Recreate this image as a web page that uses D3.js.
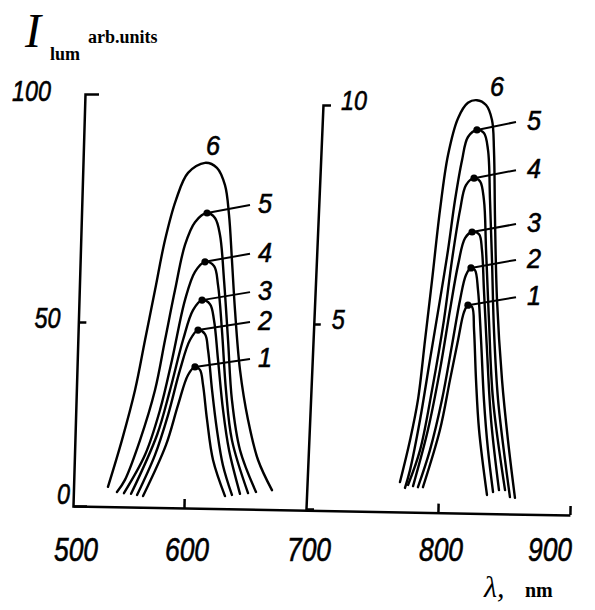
<!DOCTYPE html>
<html>
<head>
<meta charset="utf-8">
<script src="https://cdn.jsdelivr.net/npm/d3@7"></script>
<style>
  body { margin: 0; background: #fff; }
  svg text { fill: #000; }
  .hand { font-family: "Liberation Sans", Arial, sans-serif; font-style: italic; stroke: #000; stroke-width: 0.6; }
  .serif { font-family: "Liberation Serif", "DejaVu Serif", serif; }
  .axis path, .axis line { stroke: #000; stroke-width: 2.5; fill: none; }
</style>
</head>
<body>
<svg id="chart" width="595" height="610"></svg>
<script>
// ---- axis ticks ----
const xTickValues = [500, 600, 700, 800, 900];
const leftTickValues = [0, 50, 100];
const rightTickValues = [5, 10];
const curveNumbers = [1, 2, 3, 4, 5, 6];

// ---- red band, intensity on the left scale (0-100) : [wavelength nm, intensity] ----
const red1 = [[563.1,2.7],[583.8,16.6],[594.6,27.4],[603.3,35.6],[609.0,37.8],[613.1,37.0],[615.6,32.9],[618.9,23.4],[623.8,12.5],[633.6,2.7]];
const red2 = [[557.7,3.0],[573.9,13.9],[585.6,24.7],[596.4,37.0],[604.9,45.1],[611.5,47.8],[617.2,46.7],[619.7,42.4],[623.0,31.5],[627.0,20.7],[631.9,11.1],[639.3,3.0]];
const red3 = [[552.3,3.3],[575.7,19.3],[587.4,31.5],[599.1,45.1],[607.4,52.6],[614.8,54.8],[621.3,53.9],[624.6,50.4],[627.9,39.7],[632.0,26.1],[636.9,15.2],[645.9,3.3]];
const red4 = [[545.9,3.5],[564.9,13.9],[578.4,26.1],[589.2,39.7],[600.8,54.8],[609.0,61.0],[617.2,63.2],[624.6,62.3],[627.9,58.1],[631.1,47.8],[634.4,31.5],[639.3,17.9],[652.5,3.5]];
const red5 = [[539.6,3.8],[546.8,7.1],[560.4,17.9],[573.9,31.5],[582.9,45.1],[591.9,57.0],[600.8,66.9],[609.0,71.9],[618.9,73.9],[625.4,72.8],[629.5,69.1],[632.8,59.2],[636.1,45.1],[639.3,28.8],[645.9,15.2],[659.0,3.8]];
const red6 = [[531.5,5.2],[544.1,17.9],[555.9,31.5],[564.9,45.1],[573.9,57.0],[582.9,68.0],[592.8,76.8],[603.3,82.7],[617.2,84.9],[627.0,83.8],[633.6,80.0],[636.9,73.5],[639.3,63.6],[641.8,52.6],[645.9,37.0],[652.5,23.4],[660.7,12.5],[672.1,4.3]];

// ---- near-IR band, intensity on the right scale (0-10) ----
const ir1 = [[788.6,0.59],[801.5,2.14],[809.1,3.49],[815.2,4.57],[819.7,5.27],[822.7,5.43],[825.8,5.39],[827.3,4.84],[828.8,3.49],[831.1,2.14],[837.1,0.38]];
const ir2 = [[784.8,0.59],[793.9,1.59],[803.0,2.95],[810.6,4.43],[816.7,5.55],[821.2,6.12],[825.0,6.28],[828.0,6.23],[830.3,5.78],[832.6,4.57],[834.8,2.95],[837.9,1.59],[841.7,0.46]];
const ir3 = [[781.1,0.62],[792.4,2.14],[801.5,3.76],[809.1,5.32],[815.2,6.35],[820.5,6.96],[825.8,7.10],[831.1,7.05],[833.3,6.69],[834.8,5.78],[837.1,4.30],[840.2,2.41],[846.2,0.51]];
const ir4 = [[777.3,0.65],[786.4,1.59],[795.5,3.22],[804.5,5.09],[810.6,6.46],[816.7,7.60],[821.2,8.17],[827.3,8.33],[831.8,8.26],[834.8,7.83],[836.4,6.69],[838.6,5.09],[841.7,2.95],[850.8,0.51]];
const ir5 = [[775.0,0.57],[778.8,1.05],[786.4,2.41],[793.9,4.03],[801.5,5.55],[807.6,6.69],[812.9,7.83],[818.2,8.74],[822.7,9.27],[829.5,9.43],[834.8,9.36],[837.9,8.97],[839.4,7.83],[840.9,6.46],[842.4,4.84],[845.5,2.95],[850.8,1.32],[854.5,0.32]];
const ir6 = [[771.2,0.73],[778.8,1.86],[784.8,2.95],[790.2,4.57],[795.5,6.00],[801.5,7.60],[807.6,8.86],[815.2,9.70],[822.7,10.05],[829.5,10.11],[836.4,10.00],[840.9,9.66],[842.4,8.97],[843.2,7.37],[844.7,5.55],[848.5,3.49],[853.0,1.86],[858.3,0.30]];

const redCurves = [red1, red2, red3, red4, red5, red6];
const irCurves = [ir1, ir2, ir3, ir4, ir5, ir6];

const svg = d3.select("#chart");

// hand-drawn wavelength axis: unequal spacing between the hundreds
const x = d3.scaleLinear().domain(xTickValues).range([73, 184, 306, 438, 570]);
const yLeft = d3.scaleLinear().domain(leftTickValues).range([506, 322, 94]);
const yRight = d3.scaleLinear().domain([0, 5, 10]).range([509, 324, 105]);

// ---- axes ----
svg.append("g").attr("class", "axis")
  .attr("transform", "rotate(1.04,73,506) translate(0,506)")
  .call(d3.axisTop(x).tickValues([600, 800, 900]).tickSize(9).tickSizeOuter(0).tickFormat(""));

svg.append("g").attr("class", "axis")
  .attr("transform", "translate(73,506) skewX(-1.67) translate(0,-506)")
  .call(d3.axisRight(yLeft).tickValues([50]).tickSize(8).tickSizeOuter(14).tickFormat(""));

svg.append("g").attr("class", "axis")
  .attr("transform", "translate(306,509) skewX(-2.41) translate(0,-509)")
  .call(d3.axisRight(yRight).tickValues([5]).tickSize(7).tickSizeOuter(8).tickFormat(""));

// narrow, slanted numerals
function numeral(sel, size, perDigit) {
  sel.attr("class", "hand").attr("font-size", size)
    .attr("textLength", d => String(d).length * perDigit)
    .attr("lengthAdjust", "spacingAndGlyphs");
}

// wavelength labels (the last one is kept inside the frame)
svg.append("g").selectAll("text").data(xTickValues).join("text")
  .call(numeral, 33, 14.7)
  .attr("text-anchor", "middle")
  .attr("x", d => Math.min(x(d) + 3, 550)).attr("y", 561).text(d => d);

const leftLabelEdge = d3.scaleLinear().domain([0, 100]).range([70, 51]);
const leftLabelShift = d3.scaleLinear().domain([0, 50, 100]).range([-12, -4, -3]);
svg.append("g").selectAll("text").data(leftTickValues).join("text")
  .call(numeral, 29, 13)
  .attr("text-anchor", "end")
  .attr("dominant-baseline", "central")
  .attr("x", d => leftLabelEdge(d)).attr("y", d => yLeft(d) + leftLabelShift(d)).text(d => d);

svg.append("g").selectAll("text").data(rightTickValues).join("text")
  .call(numeral, 28, 13)
  .attr("text-anchor", "start")
  .attr("dominant-baseline", "central")
  .attr("x", d => 306 + (509 - yRight(d)) * 0.0421 + 18)
  .attr("y", d => yRight(d) - 5).text(d => d);

// axis titles
const yTitle = svg.append("g").attr("class", "serif");
yTitle.append("text").attr("x", 25).attr("y", 47).attr("font-size", 48).attr("font-style", "italic").text("I");
yTitle.append("text").attr("x", 50).attr("y", 60).attr("font-size", 18).attr("font-weight", "bold").text("lum");
yTitle.append("text").attr("x", 88).attr("y", 43).attr("font-size", 18).attr("font-weight", "bold").text("arb.units");

const xTitle = svg.append("g");
xTitle.append("text").attr("class", "serif").attr("x", 484).attr("y", 597).attr("font-size", 30).attr("font-style", "italic").text("λ,");
xTitle.append("text").attr("class", "serif").attr("x", 525).attr("y", 597).attr("font-size", 20).attr("font-weight", "bold").text("nm");

// ---- spectra ----
function drawBand(curves, y, layout) {
  const line = d3.line().x(d => x(d[0])).y(d => y(d[1])).curve(d3.curveCatmullRom.alpha(0.5));
  const g = svg.append("g");
  g.selectAll("path").data(curves).join("path")
    .attr("d", line).attr("fill", "none").attr("stroke", "#000")
    .attr("stroke-width", 2.4).attr("stroke-linejoin", "round").attr("stroke-linecap", "round");

  curves.forEach((pts, i) => {
    const peak = d3.greatest(pts, d => d[1]);
    const px = x(peak[0]), py = y(peak[1]);
    const num = curveNumbers[i];
    if (num === 6) {
      g.append("text").datum(num).call(numeral, 27, 14)
        .attr("text-anchor", "middle")
        .attr("x", px + layout.topDx).attr("y", py + layout.topDy).text(num);
      return;
    }
    g.append("line").attr("x1", px).attr("y1", py).attr("x2", layout.leaderEnd).attr("y2", py - 8)
      .attr("stroke", "#000").attr("stroke-width", 2);
    g.append("circle").attr("cx", px).attr("cy", py).attr("r", 3.6).attr("fill", "#000");
    g.append("text").datum(num).call(numeral, 27, 14)
      .attr("dominant-baseline", "central")
      .attr("x", layout.labelX).attr("y", py - 9).text(num);
  });
}

drawBand(redCurves, yLeft, { leaderEnd: 250, labelX: 258, topDx: 8, topDy: -8 });
drawBand(irCurves, yRight, { leaderEnd: 516, labelX: 527, topDx: 20, topDy: -4 });
</script>
</body>
</html>
